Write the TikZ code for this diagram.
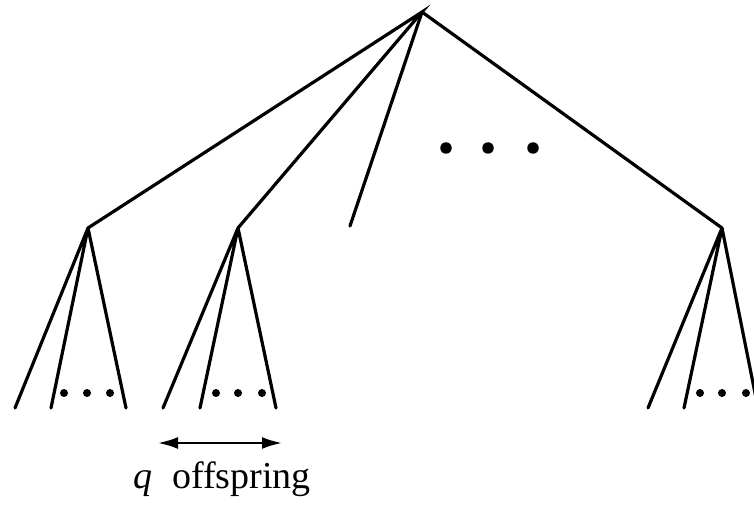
\documentclass[tikz,border=0pt]{standalone}
\usepackage{fontspec}
\setmainfont{Liberation Serif}
\usetikzlibrary{arrows.meta}
\begin{document}
\begin{tikzpicture}[x=1pt,y=-1pt,
  edge/.style={line width=3.2pt,line cap=round},
  bigdot/.style={circle,fill=black,inner sep=0pt,minimum size=11.5pt},
  smalldot/.style={circle,fill=black,inner sep=0pt,minimum size=8pt},
  lbl/.style={inner sep=0pt,font=\fontsize{38}{42}\selectfont}]
\clip (0,0) rectangle (754,505);
\fill[white] (0,0) rectangle (754,505);
% tree nodes
\coordinate (root) at (422,12);
\coordinate (A) at (88,228);
\coordinate (B) at (238,228);
\coordinate (M) at (350,226);
\coordinate (C) at (722,228);
\coordinate (a1) at (15,408);
\coordinate (a2) at (51,408);
\coordinate (a3) at (126,408);
\coordinate (b1) at (163,408);
\coordinate (b2) at (200,408);
\coordinate (b3) at (276,408);
\coordinate (c1) at (648,408);
\coordinate (c2) at (684,408);
\coordinate (c3) at (758,408);
% edges
\draw[edge] (A) -- (root) -- (B);
\draw[edge] (root) -- (M);
\draw[edge] (root) -- (C);
\draw[edge] (a1) -- (A) -- (a2);
\draw[edge] (A) -- (a3);
\draw[edge] (b1) -- (B) -- (b2);
\draw[edge] (B) -- (b3);
\draw[edge] (c1) -- (C) -- (c2);
\draw[edge] (C) -- (c3);
% dots
\node[bigdot] (d1) at (446,148) {};
\node[bigdot] (d2) at (488,148) {};
\node[bigdot] (d3) at (533,148) {};
\node[smalldot] (da1) at (64,393) {};
\node[smalldot] (da2) at (87,393) {};
\node[smalldot] (da3) at (110,393) {};
\node[smalldot] (db1) at (216,393) {};
\node[smalldot] (db2) at (238,393) {};
\node[smalldot] (db3) at (262,393) {};
\node[smalldot] (dc1) at (700,393) {};
\node[smalldot] (dc2) at (722,393) {};
\node[smalldot] (dc3) at (746,393) {};
% arrow and label
\coordinate (qL) at (158,443);
\coordinate (qR) at (282,443);
\draw[line width=2.4pt,{Latex[length=20pt,width=12pt]}-{Latex[length=20pt,width=12pt]}] (qL) -- (qR);
\node[lbl,anchor=base west] (q) at (133,488) {\textit{q}};
\node[lbl,anchor=base west] (off) at (172,488) {offspring};
\end{tikzpicture}
\end{document}
